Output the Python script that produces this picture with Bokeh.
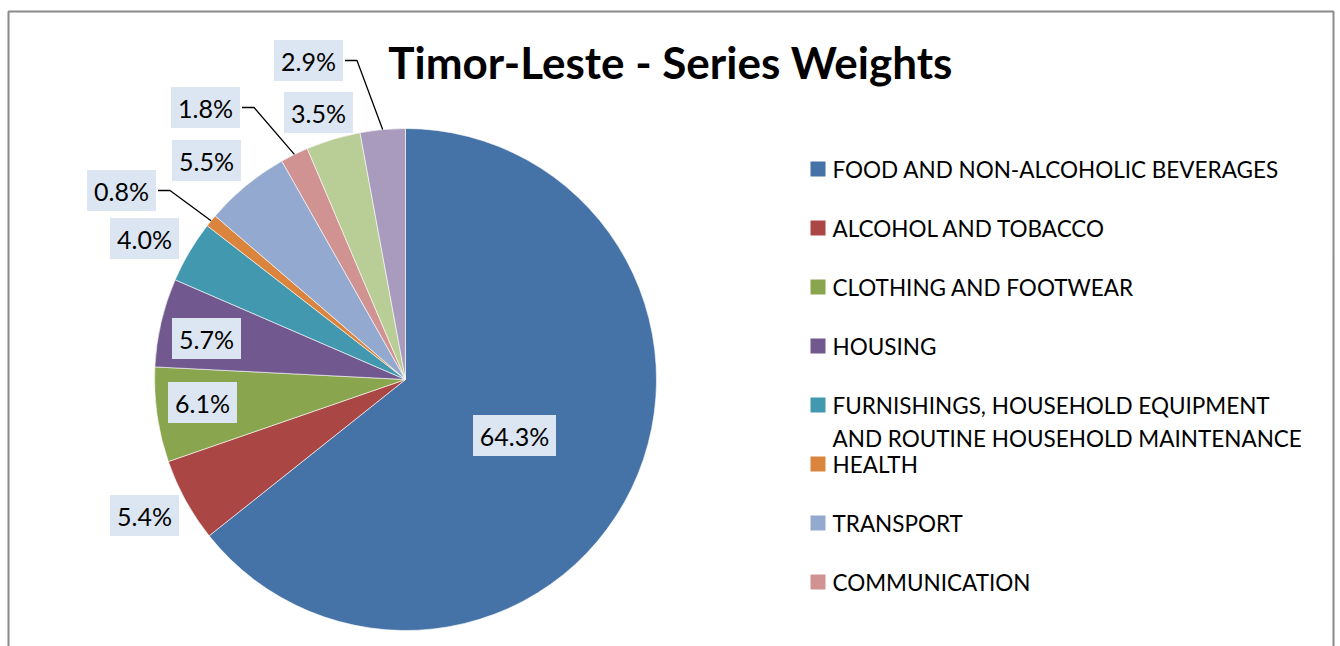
import math
import textwrap
from bokeh.plotting import figure
from bokeh.models import ColumnDataSource, Range1d
from bokeh.core.properties import value
from bokeh.embed import file_html
from bokeh.resources import INLINE

# ---------------- data ----------------
categories = [
    "FOOD AND NON-ALCOHOLIC BEVERAGES",
    "ALCOHOL AND TOBACCO",
    "CLOTHING AND FOOTWEAR",
    "HOUSING",
    "FURNISHINGS, HOUSEHOLD EQUIPMENT AND ROUTINE HOUSEHOLD MAINTENANCE",
    "HEALTH",
    "TRANSPORT",
    "COMMUNICATION",
    "RECREATION AND CULTURE",
    "EDUCATION",
]
weights = [64.3, 5.4, 6.1, 5.7, 4.0, 0.8, 5.5, 1.8, 3.5, 2.9]
colors = ["#4572A7", "#AA4643", "#89A54E", "#71588F", "#4198AF",
          "#DB843D", "#93A9CF", "#D19392", "#B9CD96", "#A99BBD"]
title_text = "Timor-Leste - Series Weights"
legend_shown = 8  # entries visible in the chart area

# ---------------- layout ----------------
W, H = 1340, 646
FONT = "Lato"


def px(X):
    return X


def py(Y):
    return H - Y


CX, CY, R = 405, 379, 251           # pie centre / radius (page pixels)
label_pos = [(514, 435), (144, 515), (202, 402), (206, 338), (144, 238),
             (121, 190), (206, 160), (205, 107), (318, 112), (308, 60)]
has_leader = [False, False, False, False, False, True, False, True, False, True]

# ---------------- figure ----------------
p = figure(width=W, height=H, x_range=Range1d(0, W), y_range=Range1d(0, H),
           output_backend="svg", toolbar_location=None, min_border=0,
           x_axis_type=None, y_axis_type=None, outline_line_color=None)
p.grid.visible = False
p.background_fill_color = "white"
p.border_fill_color = "white"

# chart border
p.line(x=[px(8), px(8), px(1333), px(1333)],
       y=[-10, py(11), py(11), -10], line_color="#8a8a8a", line_width=2)

# wedges
total = sum(weights)
starts, ends, mids = [], [], []
cum = 0.0
for w in weights:
    a_end = math.pi / 2 - 2 * math.pi * cum / total
    cum += w
    a_start = math.pi / 2 - 2 * math.pi * cum / total
    starts.append(a_start)
    ends.append(a_end)
    mids.append((a_start + a_end) / 2)

wsrc = ColumnDataSource(dict(x=[px(CX)] * len(weights), y=[py(CY)] * len(weights),
                             start=starts, end=ends, color=colors, cat=categories))
p.wedge(x="x", y="y", radius=R, radius_units="screen", start_angle="start",
        end_angle="end", direction="anticlock", fill_color="color",
        line_color="white", line_width=0.6, source=wsrc)

# labels
labels = [f"{w:.1f}%" for w in weights]
box_w = [14 * len(t) + 13 for t in labels]
lx = [px(x) for x, _ in label_pos]
ly = [py(y) for _, y in label_pos]

# leader lines
lead_xs, lead_ys = [], []
for i, lead in enumerate(has_leader):
    if not lead:
        continue
    bx_right = label_pos[i][0] + box_w[i] / 2
    yy = py(label_pos[i][1])
    ex = px(CX) + R * math.cos(mids[i])
    ey = py(CY) + R * math.sin(mids[i])
    lead_xs.append([px(bx_right + 2), px(bx_right + 14), ex])
    lead_ys.append([yy, yy, ey])
p.multi_line(xs=lead_xs, ys=lead_ys, line_color="black", line_width=1.3)

lsrc = ColumnDataSource(dict(x=lx, y=ly, text=labels, w=box_w))
p.rect(x="x", y="y", width="w", height=41, width_units="screen",
       height_units="screen", fill_color="#DCE6F2", line_color=None, source=lsrc)
p.text(x="x", y="y", text="text", text_font=value(FONT), text_font_size="25px",
       text_align="center", text_baseline="middle", text_color="black", source=lsrc)

# title
p.text(x=[px(670)], y=[py(61)], text=[title_text], text_font=value(FONT),
       text_font_size="44px", text_font_style="bold", text_align="center",
       text_baseline="middle", text_color="black")

# legend
sq_x, sq_y, sq_c = [], [], []
t_x, t_y, t_t = [], [], []
for i in range(legend_shown):
    mid = 168.5 + i * 59
    sq_x.append(px(817.5))
    sq_y.append(py(mid))
    sq_c.append(colors[i])
    for j, line in enumerate(textwrap.wrap(categories[i], 33)):
        t_x.append(px(832))
        t_y.append(py(mid + j * 33))
        t_t.append(line)
p.rect(x=sq_x, y=sq_y, width=15, height=15, width_units="screen",
       height_units="screen", fill_color=sq_c, line_color=None)
p.text(x=t_x, y=t_y, text=t_t, text_font=value(FONT), text_font_size="22.5px",
       text_align="left", text_baseline="middle", text_color="black")

open("out.html", "w").write(file_html(p, INLINE))
